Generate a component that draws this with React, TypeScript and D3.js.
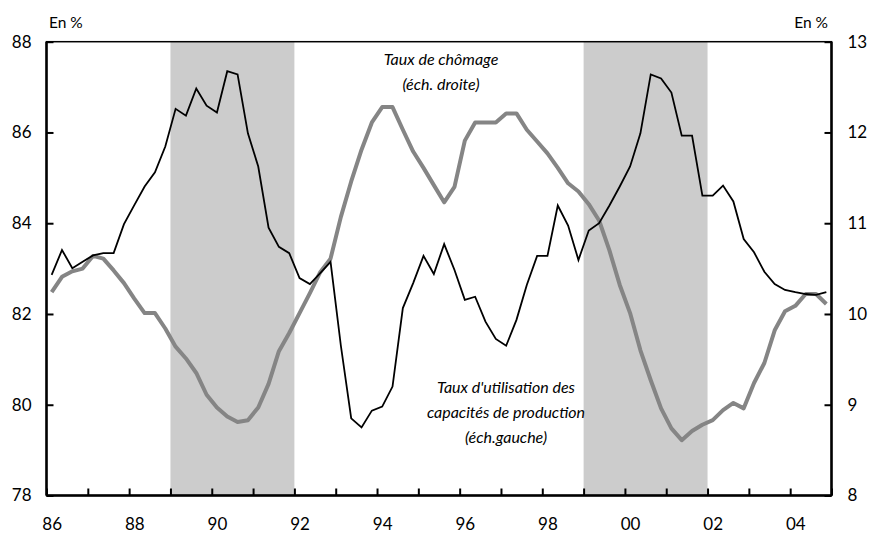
import React, { useEffect, useRef } from 'react';
import * as d3 from 'd3';

// quarterly, 1986 Q1 -> 2004 Q4
const startYear = 1986;
const capacityUse = [
  82.86, 83.41, 83.01, 83.15, 83.29, 83.34, 83.34, 83.98,
  84.4, 84.81, 85.12, 85.69, 86.52, 86.37, 86.97, 86.59,
  86.44, 87.35, 87.28, 85.98, 85.25, 83.9, 83.48, 83.34,
  82.79, 82.66, 82.9, 83.15, 81.3, 79.7, 79.5, 79.87,
  79.96, 80.4, 82.13, 82.68, 83.28, 82.88, 83.54, 82.97,
  82.31, 82.38, 81.83, 81.45, 81.3, 81.87, 82.64, 83.28,
  83.28, 84.39, 83.95, 83.19, 83.84, 84.0, 84.39, 84.81,
  85.25, 85.98, 87.28, 87.19, 86.88, 85.93, 85.93, 84.61,
  84.61, 84.83, 84.48, 83.65, 83.36, 82.93, 82.66, 82.53,
  82.48, 82.44, 82.42, 82.48,
];
const unemployment = [
  10.24, 10.41, 10.47, 10.5, 10.64, 10.61, 10.48, 10.34,
  10.17, 10.01, 10.01, 9.84, 9.64, 9.51, 9.35, 9.11,
  8.97, 8.87, 8.81, 8.83, 8.97, 9.23, 9.59, 9.79,
  10.01, 10.23, 10.46, 10.61, 11.07, 11.46, 11.81, 12.11,
  12.28, 12.28, 12.03, 11.79, 11.61, 11.42, 11.23, 11.4,
  11.91, 12.11, 12.11, 12.11, 12.21, 12.21, 12.03, 11.9,
  11.77, 11.61, 11.44, 11.35, 11.21, 11.03, 10.7, 10.32,
  10.01, 9.6, 9.27, 8.96, 8.74, 8.61, 8.71, 8.78,
  8.83, 8.94, 9.02, 8.96, 9.24, 9.46, 9.82, 10.03,
  10.09, 10.22, 10.22, 10.11,
];
const recessions = [[1989, 1992], [1999, 2002]];
const leftTicks = [78, 80, 82, 84, 86, 88];
const rightTicks = [8, 9, 10, 11, 12, 13];
const yearLabels = [1986, 1988, 1990, 1992, 1994, 1996, 1998, 2000, 2002, 2004];

const FONT = 'Lato, "Open Sans", sans-serif';

export default function App() {
  const ref = useRef<SVGSVGElement>(null);

  useEffect(() => {
    const width = 869, height = 534;
    const margin = { top: 41.7, left: 46.5, right: 37.5, bottom: 38.5 };
    const w = width - margin.left - margin.right;
    const h = height - margin.top - margin.bottom;

    const svg = d3.select(ref.current).attr('width', width).attr('height', height);
    svg.selectAll('*').remove();
    const g = svg.append('g').attr('transform', `translate(${margin.left},${margin.top})`);

    const x = d3.scaleLinear().domain([1986, 2005]).range([0, w]);
    const yL = d3.scaleLinear().domain([78, 88]).range([h, 0]);
    const yR = d3.scaleLinear().domain([8, 13]).range([h, 0]);
    const tq = (i: number) => startYear + (i + 0.5) / 4;

    // shaded periods
    g.selectAll('.shade').data(recessions).join('rect').attr('class', 'shade')
      .attr('x', d => x(d[0])).attr('y', 0)
      .attr('width', d => x(d[1]) - x(d[0])).attr('height', h)
      .attr('fill', '#cccccc');

    // lines
    const lineL = d3.line<number>().x((d, i) => x(tq(i))).y(d => yL(d));
    const lineR = d3.line<number>().x((d, i) => x(tq(i))).y(d => yR(d));
    g.append('path').datum(unemployment).attr('d', lineR)
      .attr('fill', 'none').attr('stroke', '#858585').attr('stroke-width', 4)
      .attr('stroke-linejoin', 'round');
    g.append('path').datum(capacityUse).attr('d', lineL)
      .attr('fill', 'none').attr('stroke', '#000').attr('stroke-width', 1.8)
      .attr('stroke-linejoin', 'miter');

    // axes
    const styleAxis = (sel: any) => {
      sel.select('.domain').remove();
      sel.selectAll('line').attr('stroke', '#000').attr('stroke-width', 2);
      sel.selectAll('text').attr('font-family', FONT).attr('font-size', 17).attr('fill', '#000');
    };
    g.append('g').call(d3.axisLeft(yL).tickValues(leftTicks).tickSize(-7).tickPadding(15).tickFormat(d3.format('d')))
      .call(styleAxis);
    g.append('g').attr('transform', `translate(${w},0)`)
      .call(d3.axisRight(yR).tickValues(rightTicks).tickSize(-7).tickPadding(16).tickFormat(d3.format('d')))
      .call(styleAxis);
    g.append('g').attr('transform', `translate(0,${h})`)
      .call(d3.axisBottom(x).tickValues(d3.range(1986, 2006)).tickSize(-7).tickFormat(() => ''))
      .call(styleAxis);
    g.append('g').attr('transform', `translate(0,${h})`)
      .call(d3.axisBottom(x).tickValues(yearLabels.map(d => d + 0.125)).tickSize(0).tickPadding(22)
        .tickFormat((d: any) => String(Math.floor(d) % 100).padStart(2, '0')))
      .call(styleAxis);

    // frame
    g.append('rect').attr('x', 0).attr('y', 0).attr('width', w).attr('height', h)
      .attr('fill', 'none').attr('stroke', '#000').attr('stroke-width', 1.5);
    g.append('line').attr('x1', 0).attr('x2', 0).attr('y1', 0).attr('y2', h).attr('stroke', '#000').attr('stroke-width', 2.5);
    g.append('line').attr('x1', w).attr('x2', w).attr('y1', 0).attr('y2', h).attr('stroke', '#000').attr('stroke-width', 2.5);
    g.append('line').attr('x1', 0).attr('x2', w).attr('y1', h).attr('y2', h).attr('stroke', '#000').attr('stroke-width', 2.5);

    // unit labels
    svg.append('text').attr('x', 49).attr('y', 28).text('En %')
      .attr('font-family', FONT).attr('font-size', 15.5);
    svg.append('text').attr('x', 828).attr('y', 28).attr('text-anchor', 'end').text('En %')
      .attr('font-family', FONT).attr('font-size', 15.5);

    // annotations
    const note = (lines: string[], cx: number, y0: number) => {
      lines.forEach((t, k) => {
        svg.append('text').attr('x', cx).attr('y', y0 + k * 25).attr('text-anchor', 'middle')
          .attr('font-family', FONT).attr('font-style', 'italic').attr('font-size', 16).text(t);
      });
    };
    note(['Taux de chômage', '(éch. droite)'], 441, 65);
    note(["Taux d'utilisation des", 'capacités de production', '(éch.gauche)'], 506, 393);
  }, []);

  return (
    <div style={{ position: 'absolute', left: 0, top: 0 }}>
      <svg ref={ref}></svg>
    </div>
  );
}
